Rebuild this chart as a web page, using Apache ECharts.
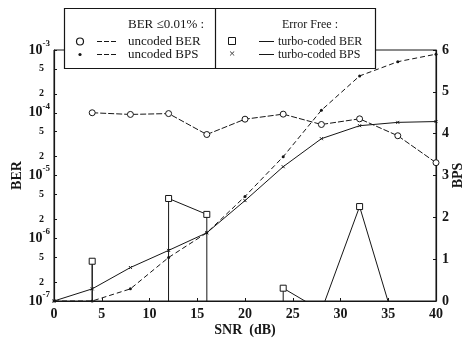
<!DOCTYPE html>
<html>
<head>
<meta charset="utf-8">
<script src="https://cdn.jsdelivr.net/npm/echarts@6/dist/echarts.min.js"></script>
<style>
  html, body { margin: 0; padding: 0; background: #fff; }
  #chart { width: 464px; height: 341px; }
</style>
</head>
<body>
<div id="chart"></div>
<script>
// SNR in dB
const snr = [0, 4, 8, 12, 16, 20, 24, 28, 32, 36, 40]
// BER target <= 0.01 %
const uncodedBer = [null, 1.0e-4, 9.4e-5, 9.7e-5, 4.5e-5, 7.9e-5, 9.5e-5, 6.5e-5, 8.0e-5, 4.3e-5, 1.6e-5]
const uncodedBps = [0, 0, 0.29, 1.04, 1.63, 2.5, 3.45, 4.56, 5.38, 5.72, 5.9]
// error free (0 = no errors, drops off the log axis)
const turboBer = [0, 4.3e-7, 0, 4.3e-6, 2.4e-6, 0, 1.6e-7, 7e-8, 3.2e-6, 3e-8, 0]
const turboBps = [0, 0.29, 0.80, 1.21, 1.63, 2.40, 3.21, 3.88, 4.19, 4.27, 4.29]

// left axis labels: decades plus 2 and 5
const berTicks = [-7, -6.699, -6.301, -6, -5.699, -5.301, -5, -4.699, -4.301, -4, -3.699, -3.301, -3]

const FONT = '"Liberation Serif", "DejaVu Serif", serif'
const INK = '#161616'

// BER is plotted as log10, zero errors go far below the axis
const toLog = v => (v == null ? null : v > 0 ? Math.log10(v) : -1000)
const pairs = (ys, f) => snr.map((x, i) => [x, f ? f(ys[i]) : ys[i]])

const chart = echarts.init(document.getElementById('chart'))

const xMark = 'path://M0,0L10,10M10,0L0,10'

const option = {
  animation: false,
  grid: {
    left: 54,
    right: 28,
    top: 50,
    bottom: 40,
    outerBoundsMode: 'none',
    show: true,
    borderColor: INK,
    borderWidth: 1
  },
  xAxis: {
    type: 'value',
    min: 0,
    max: 40,
    interval: 5,
    name: 'SNR  (dB)',
    nameLocation: 'middle',
    nameGap: 22,
    nameMoveOverlap: false,
    nameTextStyle: { fontFamily: FONT, fontWeight: 'bold', fontSize: 14, color: INK },
    axisLine: { lineStyle: { color: INK, width: 1.2 } },
    axisTick: { inside: true, length: 3, lineStyle: { color: INK } },
    axisLabel: { fontFamily: FONT, fontWeight: 'bold', fontSize: 14, color: INK, margin: 6 },
    splitLine: { show: false }
  },
  yAxis: [
    {
      type: 'value',
      min: -7,
      max: -3,
      position: 'left',
      name: 'BER',
      nameLocation: 'middle',
      nameGap: 30,
      nameMoveOverlap: false,
      nameTextStyle: { fontFamily: FONT, fontWeight: 'bold', fontSize: 14, color: INK },
      axisLine: { show: true, lineStyle: { color: INK, width: 1.2 } },
      axisTick: { inside: true, length: 3, customValues: berTicks, lineStyle: { color: INK } },
      axisLabel: {
        customValues: berTicks,
        margin: 4,
        color: INK,
        fontFamily: FONT,
        fontWeight: 'bold',
        formatter: v => {
          const d = Math.round(v)
          if (Math.abs(v - d) < 1e-6) return '{b|10}{s|' + d + '}'
          return '{m|' + Math.round(Math.pow(10, v - Math.floor(v))) + '}'
        },
        rich: {
          b: { fontFamily: FONT, fontWeight: 'bold', fontSize: 14, lineHeight: 22, color: INK },
          s: { fontFamily: FONT, fontWeight: 'bold', fontSize: 9, color: INK, verticalAlign: 'top' },
          m: { fontFamily: FONT, fontWeight: 'bold', fontSize: 10, color: INK, padding: [0, 6, 0, 0] }
        }
      },
      splitLine: { show: false }
    },
    {
      type: 'value',
      min: 0,
      max: 6,
      interval: 1,
      position: 'right',
      name: 'BPS',
      nameLocation: 'middle',
      nameGap: 15,
      nameRotate: 90,
      nameMoveOverlap: false,
      nameTextStyle: { fontFamily: FONT, fontWeight: 'bold', fontSize: 14, color: INK },
      axisLine: { show: true, lineStyle: { color: INK, width: 1.2 } },
      axisTick: { inside: true, length: 3, lineStyle: { color: INK } },
      axisLabel: { fontFamily: FONT, fontWeight: 'bold', fontSize: 14, color: INK, margin: 6 },
      splitLine: { show: false }
    }
  ],
  series: [
    {
      name: 'uncoded BER',
      type: 'line',
      yAxisIndex: 0,
      data: pairs(uncodedBer, toLog),
      symbol: 'circle',
      symbolSize: 6,
      itemStyle: { color: '#fff', borderColor: INK, borderWidth: 1 },
      lineStyle: { color: INK, width: 1, type: [6, 2] },
      clip: true
    },
    {
      name: 'uncoded BPS',
      type: 'line',
      yAxisIndex: 1,
      data: pairs(uncodedBps),
      symbol: 'circle',
      symbolSize: 3,
      itemStyle: { color: INK },
      lineStyle: { color: INK, width: 1, type: [5, 3] },
      clip: true
    },
    {
      name: 'turbo-coded BER',
      type: 'line',
      yAxisIndex: 0,
      data: pairs(turboBer, toLog),
      symbol: 'rect',
      symbolSize: 6,
      itemStyle: { color: '#fff', borderColor: INK, borderWidth: 1 },
      lineStyle: { color: INK, width: 1 },
      clip: true
    },
    {
      name: 'turbo-coded BPS',
      type: 'line',
      yAxisIndex: 1,
      data: pairs(turboBps),
      symbol: xMark,
      symbolSize: 3,
      itemStyle: { color: INK, borderColor: INK, borderWidth: 1 },
      lineStyle: { color: INK, width: 1 },
      clip: true
    }
  ],
  graphic: [
    { type: 'rect', z: 100, shape: { x: 64.5, y: 8.5, width: 311, height: 60 }, style: { fill: '#fff', stroke: INK, lineWidth: 1.2 } },
    { type: 'line', z: 101, shape: { x1: 215.5, y1: 8.5, x2: 215.5, y2: 68.5 }, style: { stroke: INK, lineWidth: 1.2 } },
    // left half
    { type: 'text', z: 101, x: 128, y: 25, style: { text: 'BER \u22640.01% :', font: '13px ' + FONT, fill: INK, verticalAlign: 'middle' } },
    { type: 'circle', z: 101, shape: { cx: 80, cy: 41.5, r: 3.5 }, style: { fill: '#fff', stroke: INK, lineWidth: 1.2 } },
    { type: 'line', z: 101, shape: { x1: 97, y1: 41.5, x2: 118, y2: 41.5 }, style: { stroke: INK, lineWidth: 1, lineDash: [5, 2] } },
    { type: 'text', z: 101, x: 128, y: 41.5, style: { text: 'uncoded BER', font: '13px ' + FONT, fill: INK, verticalAlign: 'middle' } },
    { type: 'circle', z: 101, shape: { cx: 80, cy: 54.5, r: 1.6 }, style: { fill: INK } },
    { type: 'line', z: 101, shape: { x1: 97, y1: 54.5, x2: 118, y2: 54.5 }, style: { stroke: INK, lineWidth: 1, lineDash: [5, 2] } },
    { type: 'text', z: 101, x: 128, y: 54.5, style: { text: 'uncoded BPS', font: '13px ' + FONT, fill: INK, verticalAlign: 'middle' } },
    // right half
    { type: 'text', z: 101, x: 282, y: 25, style: { text: 'Error Free :', font: '12px ' + FONT, fill: INK, verticalAlign: 'middle' } },
    { type: 'rect', z: 101, shape: { x: 228.5, y: 37.5, width: 7, height: 7 }, style: { fill: '#fff', stroke: INK, lineWidth: 1 } },
    { type: 'line', z: 101, shape: { x1: 259, y1: 41.5, x2: 274, y2: 41.5 }, style: { stroke: INK, lineWidth: 1 } },
    { type: 'text', z: 101, x: 278, y: 41.5, style: { text: 'turbo-coded BER', font: '12px ' + FONT, fill: INK, verticalAlign: 'middle' } },
    { type: 'text', z: 101, x: 232, y: 54.5, style: { text: '\u00d7', font: '11px ' + FONT, fill: INK, align: 'center', verticalAlign: 'middle' } },
    { type: 'line', z: 101, shape: { x1: 259, y1: 54.5, x2: 274, y2: 54.5 }, style: { stroke: INK, lineWidth: 1 } },
    { type: 'text', z: 101, x: 278, y: 54.5, style: { text: 'turbo-coded BPS', font: '12px ' + FONT, fill: INK, verticalAlign: 'middle' } }
  ]
}

chart.setOption(option)
</script>
</body>
</html>
